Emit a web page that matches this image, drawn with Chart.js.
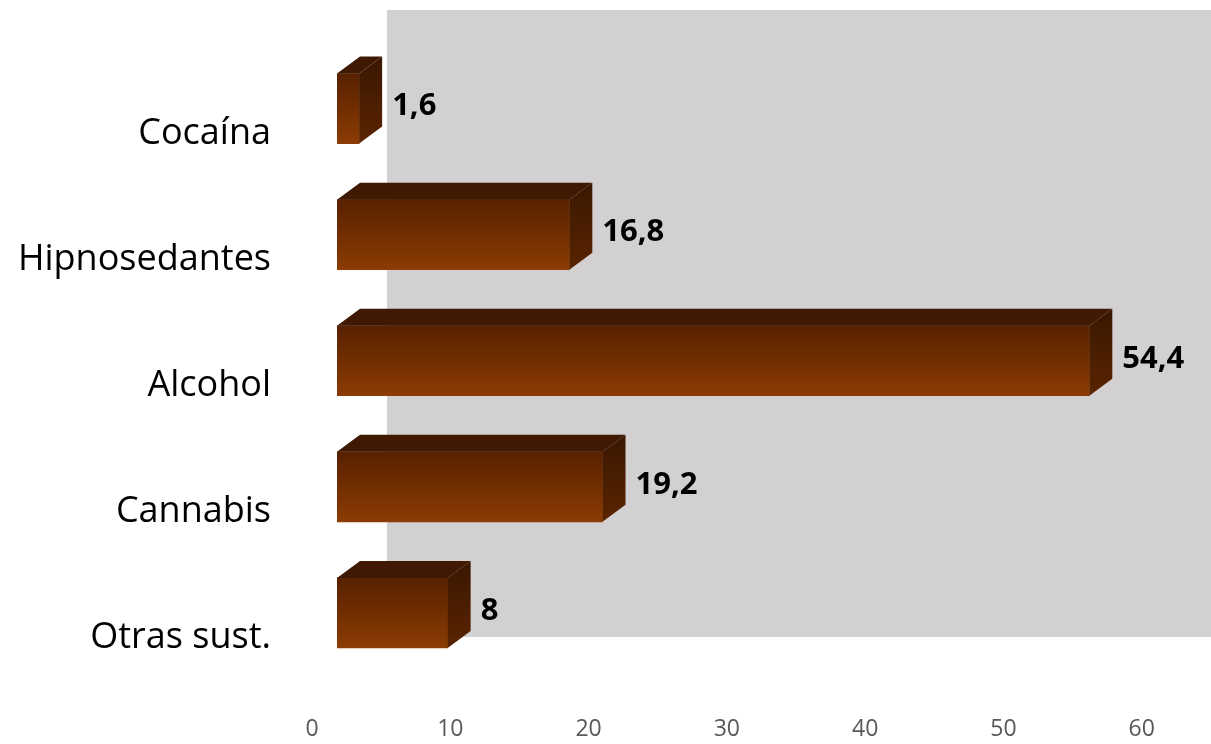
<!DOCTYPE html>
<html lang="es">
  <head>
    <meta charset="UTF-8" />
    <title>Consumo por sustancia</title>
    <style>
      body {
        margin: 0;
        background: #ffffff;
        overflow: hidden;
      }
      #wrap {
        width: 1211px;
        height: 744px;
      }
    </style>
    <script src="https://cdn.jsdelivr.net/npm/chart.js"></script>
  </head>
  <body>
    <div id="wrap"><canvas id="chart"></canvas></div>
    <script>
      const categories = ["Cocaína", "Hipnosedantes", "Alcohol", "Cannabis", "Otras sust."];
      const values = [1.6, 16.8, 54.4, 19.2, 8];
      const tickValues = [0, 10, 20, 30, 40, 50, 60];

      // depth of the fake 3D extrusion
      const DX = 23;
      const DY = -17;

      function frontGradient(context) {
        const chart = context.chart;
        const y = chart.scales.y;
        if (!chart.chartArea || !y) return "#7a3302";
        const cy = y.getPixelForValue(context.dataIndex);
        const g = chart.ctx.createLinearGradient(0, cy - 35, 0, cy + 35);
        g.addColorStop(0, "#582100");
        g.addColorStop(0.55, "#742f00");
        g.addColorStop(1, "#8c3c04");
        return g;
      }

      const wallPlugin = {
        id: "wall",
        beforeDatasetsDraw(chart) {
          const { ctx, chartArea, scales } = chart;
          const left = scales.x.getPixelForValue(0) + 50;
          const top = chartArea.top - 35.5;
          const bottom = chartArea.bottom - 39;
          ctx.save();
          ctx.fillStyle = "#d3d0d1";
          ctx.fillRect(left, top, chartArea.right - left, bottom - top);
          ctx.restore();
        },
      };

      const depthPlugin = {
        id: "depth",
        afterDatasetsDraw(chart) {
          const { ctx } = chart;
          const meta = chart.getDatasetMeta(0);
          ctx.save();
          meta.data.forEach((bar, i) => {
            const p = bar.getProps(["x", "y", "base", "height"], true);
            const top = p.y - p.height / 2;
            const bottom = p.y + p.height / 2;
            // top face
            ctx.fillStyle = "#3f1901";
            ctx.beginPath();
            ctx.moveTo(p.base, top);
            ctx.lineTo(p.base + DX, top + DY);
            ctx.lineTo(p.x + DX, top + DY);
            ctx.lineTo(p.x, top);
            ctx.closePath();
            ctx.fill();
            // right side face
            const sg = ctx.createLinearGradient(0, top + DY, 0, bottom);
            sg.addColorStop(0, "#3a1701");
            sg.addColorStop(1, "#5a2400");
            ctx.fillStyle = sg;
            ctx.beginPath();
            ctx.moveTo(p.x, top);
            ctx.lineTo(p.x + DX, top + DY);
            ctx.lineTo(p.x + DX, bottom + DY);
            ctx.lineTo(p.x, bottom);
            ctx.closePath();
            ctx.fill();
            // value label
            ctx.fillStyle = "#000000";
            ctx.font = "bold 31px 'Open Sans'";
            ctx.textAlign = "left";
            ctx.textBaseline = "middle";
            ctx.fillText(String(values[i]).replace(".", ","), p.x + 33, p.y - 2);
          });
          ctx.restore();
        },
      };

      const ctx = document.getElementById("chart").getContext("2d");
      new Chart(ctx, {
        type: "bar",
        data: {
          labels: categories,
          datasets: [
            {
              data: values,
              backgroundColor: frontGradient,
              borderWidth: 0,
              barThickness: 70,
            },
          ],
        },
        options: {
          indexAxis: "y",
          responsive: true,
          maintainAspectRatio: false,
          animation: false,
          layout: { padding: { top: 45.5, left: 0, right: 0, bottom: 0 } },
          plugins: {
            legend: { display: false },
            tooltip: { enabled: false },
          },
          scales: {
            x: {
              min: 0,
              max: 63.2,
              afterBuildTicks(scale) {
                scale.ticks = tickValues.map((v) => ({ value: v }));
              },
              afterFit(scale) {
                scale.height = 68;
                scale.paddingLeft = 0;
                scale.paddingRight = 0;
              },
              grid: { display: false, drawTicks: false },
              border: { display: false },
              ticks: {
                padding: 40,
                labelOffset: -25,
                color: "#595959",
                font: { family: "Open Sans", size: 23 },
                maxRotation: 0,
              },
            },
            y: {
              afterFit(scale) {
                scale.width = 337;
                scale.paddingTop = 0;
                scale.paddingBottom = 0;
              },
              grid: { display: false, drawTicks: false },
              border: { display: false },
              ticks: {
                padding: 66,
                labelOffset: 25,
                color: "#000000",
                font: { family: "Open Sans", size: 36 },
              },
            },
          },
        },
        plugins: [wallPlugin, depthPlugin],
      });
    </script>
  </body>
</html>
